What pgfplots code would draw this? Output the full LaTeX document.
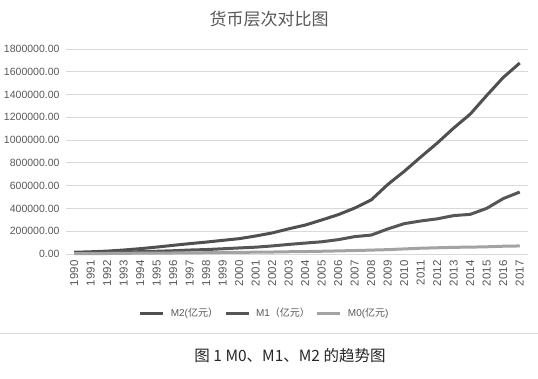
\documentclass[border=0pt]{standalone}
\usepackage{pgfplots}
\pgfplotsset{compat=1.18}
\usepackage{fontspec}
\setmainfont{Liberation Sans}
\newfontfamily\cjk{Noto Sans CJK SC}
\definecolor{txt}{HTML}{595959}
\definecolor{gridc}{HTML}{D9D9D9}
\definecolor{mtwo}{HTML}{505050}
\definecolor{mone}{HTML}{565656}
\definecolor{mzero}{HTML}{A3A3A3}
\pgfplotstableread{
year M2 M1 M0
1990 15293 6951 2644
1991 19350 8633 3178
1992 25402 11731 4336
1993 34880 16280 5865
1994 46924 20541 7289
1995 60751 23987 7885
1996 76095 28515 8802
1997 90995 34826 10178
1998 104499 38954 11204
1999 119898 45837 13456
2000 134610 53147 14653
2001 158302 59872 15689
2002 185007 70882 17278
2003 221223 84119 19746
2004 254107 95970 21468
2005 298756 107278 24032
2006 345578 126028 27073
2007 403442 152560 30375
2008 475167 166217 34219
2009 610225 220002 38246
2010 725852 266622 44628
2011 851591 289848 50748
2012 974149 308664 54660
2013 1106525 337291 58574
2014 1228375 348056 60260
2015 1392278 400953 63217
2016 1550067 486557 68304
2017 1676769 543790 70646
}\datatable
\begin{document}
\begin{tikzpicture}[x=1pt,y=1pt]
\useasboundingbox (0,0) rectangle (538,379);
\fill[white] (0,0) rectangle (538,379);
\begin{axis}[
  at={(66pt,125pt)}, anchor=south west,
  width=462pt, height=205pt, scale only axis,
  xmin=1989.5, xmax=2017.5, ymin=0, ymax=1800000,
  xtick={1990,...,2017},
  xticklabels={1990,1991,1992,1993,1994,1995,1996,1997,1998,1999,2000,2001,2002,2003,2004,2005,2006,2007,2008,2009,2010,2011,2012,2013,2014,2015,2016,2017},
  ytick={0,200000,400000,600000,800000,1000000,1200000,1400000,1600000,1800000},
  scaled y ticks=false,
  yticklabel style={/pgf/number format/fixed, /pgf/number format/fixed zerofill, /pgf/number format/precision=2, /pgf/number format/1000 sep={}, /pgf/number format/assume math mode=true},
  y tick label style={font=\fontsize{10.5}{12}\selectfont, text=txt},
  x tick label style={rotate=90, anchor=east, font=\fontsize{11.5}{13}\selectfont, text=txt},
  xticklabel shift=3pt, yticklabel shift=3pt,
  major tick length=0pt,
  ymajorgrids, grid style={gridc, line width=0.9pt},
  axis line style={draw=none},
  clip=false,
  legend columns=3,
  legend style={at={(0.43,-0.288)}, anchor=center, draw=none, fill=none,
    font=\fontsize{10}{12}\selectfont, text=txt, column sep=4pt},
  legend image code/.code={\draw[#1] (0pt,0pt) -- (23pt,0pt);},
]
\addplot[mtwo, line width=3pt, line join=round] table[x=year,y=M2] {\datatable};
\addlegendentry{M2({\cjk 亿元）}}
\addplot[mone, line width=3pt, line join=round] table[x=year,y=M1] {\datatable};
\addlegendentry{M1{\cjk （亿元）}}
\addplot[mzero, line width=3pt, line join=round] table[x=year,y=M0] {\datatable};
\addlegendentry{M0({\cjk 亿元})}
\end{axis}
\node[text=txt, font=\cjk\fontsize{17}{20}\selectfont] at (269,360) {货币层次对比图};
\draw[gridc, line width=0.9pt] (0,46) -- (538,46);
\node[text=black!85, font=\cjk\fontsize{15.5}{18}\selectfont] at (290,23) {图 1 M0、M1、M2 的趋势图};
\end{tikzpicture}
\end{document}
